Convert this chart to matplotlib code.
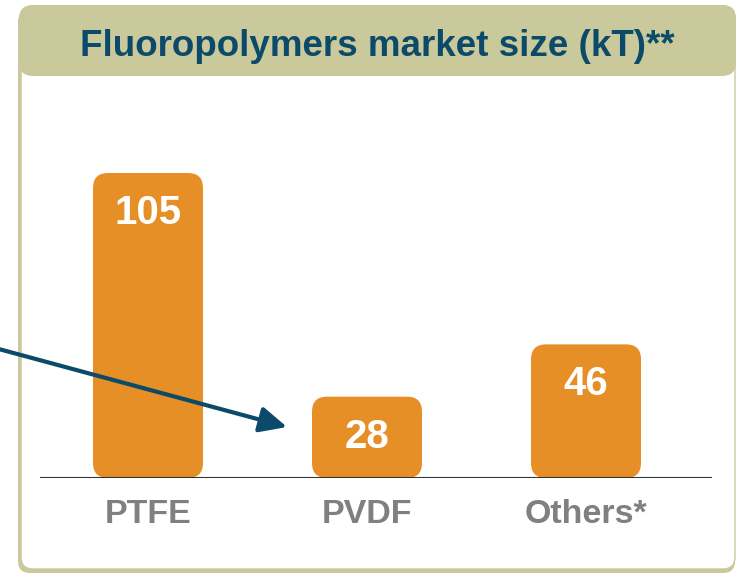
import numpy as np
import matplotlib.pyplot as plt
from matplotlib.patches import FancyBboxPatch, FancyArrowPatch

categories = ["PTFE", "PVDF", "Others*"]
market_kt = [105, 28, 46]
title = "Fluoropolymers market size (kT)**"

khaki = "#c9c99b"
navy = "#0c4a69"
orange = "#e68f27"
grey = "#808080"

plt.rcParams['font.family'] = ['Liberation Sans', 'DejaVu Sans']

W, H = 739, 575
fig = plt.figure(figsize=(W / 100, H / 100), dpi=100)

# fond: cadre arrondi + bandeau du titre (coordonnées pixels, y vers le bas)
bg = fig.add_axes([0, 0, 1, 1])
bg.set_xlim(0, W)
bg.set_ylim(H, 0)
bg.axis('off')

bg.add_patch(FancyBboxPatch((18, 10), 717, 563, boxstyle="round,pad=0,rounding_size=12",
                            fc=khaki, ec="none"))
bg.add_patch(FancyBboxPatch((21, 6), 714, 563, boxstyle="round,pad=0,rounding_size=12",
                            fc="white", ec=khaki, lw=1))
bg.add_patch(FancyBboxPatch((19, 5), 717, 71, boxstyle="round,pad=0,rounding_size=14",
                            fc=khaki, ec="none"))
bg.text(377, 56, title, ha='center', va='baseline', fontsize=26.5, fontweight='bold', color=navy)

# zone des barres
x0, x1, y_base, y_top = 40, 712, 478, 100
ax = fig.add_axes([x0 / W, (H - y_base) / H, (x1 - x0) / W, (y_base - y_top) / H])
ax.patch.set_alpha(0)
px_per_x = 219.0
px_per_y = 305.0 / 105
ax.set_xlim(-108 / px_per_x, -108 / px_per_x + (x1 - x0) / px_per_x)
ax.set_ylim(0, (y_base - y_top) / px_per_y)
ax.axis('off')
ax.axhline(0, color="#333333", lw=1.5, xmin=0, xmax=1)

pos = np.arange(len(categories))
bw = 110 / px_per_x
r = 15 / px_per_x
for xi, v, lab in zip(pos, market_kt, categories):
    bar = FancyBboxPatch((xi - bw / 2, 0), bw, v,
                         boxstyle=f"round,pad=0,rounding_size={r}",
                         mutation_aspect=px_per_x / px_per_y,
                         fc=orange, ec="none")
    ax.add_patch(bar)
    ax.text(xi, v - 51 / px_per_y, str(v), ha='center', va='baseline',
            fontsize=29, fontweight='bold', color='white')
    ax.text(xi, -45 / px_per_y, lab, ha='center', va='baseline',
            fontsize=24.5, fontweight='bold', color=grey, clip_on=False)

# flèche, par-dessus les barres
top = fig.add_axes([0, 0, 1, 1])
top.set_xlim(0, W)
top.set_ylim(H, 0)
top.axis('off')
top.patch.set_alpha(0)
top.add_patch(FancyArrowPatch((-5, 348), (287, 427),
                              arrowstyle="-|>,head_length=5.5,head_width=2.6",
                              mutation_scale=3, color=navy, lw=3,
                              shrinkA=0, shrinkB=0))
bg.set_zorder(0)
ax.set_zorder(1)
top.set_zorder(2)

fig.savefig("out.png", dpi=100)
